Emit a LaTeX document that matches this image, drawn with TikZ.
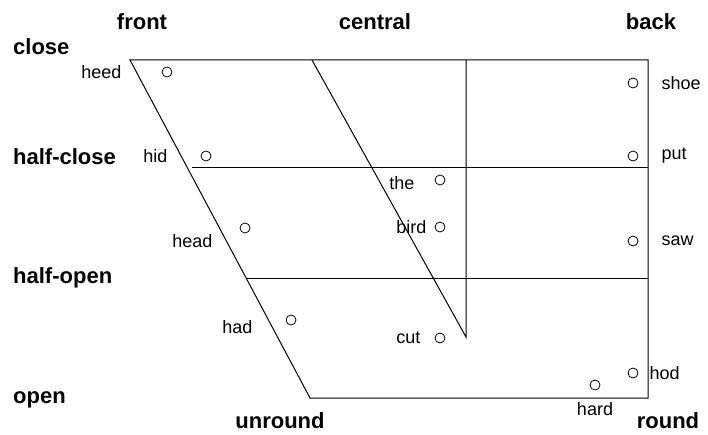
\documentclass[tikz,border=0pt]{standalone}
\usepackage{fontspec}
\setmainfont{Liberation Sans}
\usetikzlibrary{positioning}

\begin{document}
\begin{tikzpicture}[
  x=1pt, y=-1pt,
  node distance=20pt,
  every node/.style={inner sep=0pt},
  vowel/.style={circle, draw, line width=0.8pt, minimum size=10pt},
  word/.style={font=\fontsize{18}{18}\selectfont},
  axislbl/.style={font=\fontsize{22}{22}\selectfont\bfseries},
  frame/.style={line width=1pt}
]
\useasboundingbox (0,0) rectangle (708,435);

% vowel quadrilateral
\coordinate (ftl) at (130,60);
\coordinate (ftr) at (648,60);
\coordinate (fbr) at (648,398);
\coordinate (fbl) at (310,398);
\coordinate (ctop) at (312,60);
\coordinate (cvtop) at (466,60);
\coordinate (cbot) at (466,337);
\coordinate (hcl) at (192,168);
\coordinate (hcr) at (648,168);
\coordinate (hol) at (247,278);
\coordinate (hor) at (648,278);

\draw[frame] (ftl) -- (ftr) -- (fbr) -- (fbl) -- cycle;
\draw[frame] (ctop) -- (cbot) -- (cvtop);
\draw[frame] (hcl) -- (hcr);
\draw[frame] (hol) -- (hor);

% axis labels
\node[axislbl] (front) at (142,22) {front};
\node[axislbl] (central) at (375,22) {central};
\node[axislbl] (back) at (651,22) {back};
\node[axislbl, anchor=west] (close) at (13,47) {close};
\node[axislbl, anchor=west] (halfclose) at (13,157) {half-close};
\node[axislbl, anchor=west] (halfopen) at (13,278) {half-open};
\node[axislbl, anchor=west] (open) at (13,400) {open};
\node[axislbl] (unround) at (280,421) {unround};
\node[axislbl] (round) at (668,421) {round};

% vowels
\node[vowel] (heed) at (167,72) {};
\node[vowel] (hid) at (206,156) {};
\node[vowel] (head) at (245,228) {};
\node[vowel] (had) at (291,320) {};
\node[vowel] (the) at (440,180) {};
\node[vowel] (bird) at (440,227) {};
\node[vowel] (cut) at (440,338) {};
\node[vowel] (shoe) at (633,83) {};
\node[vowel] (put) at (633,156) {};
\node[vowel] (saw) at (633,241) {};
\node[vowel] (hod) at (633,373) {};
\node[vowel] (hard) at (595,385) {};

\node[word, left=40pt of heed] {heed};
\node[word, left=33pt of hid] {hid};
\node[word, left=27pt of head, yshift=-13pt] {head};
\node[word, left=33pt of had, yshift=-7pt] {had};
\node[word, left=20pt of the, yshift=-3pt] {the};
\node[word, left=8pt of bird] {bird};
\node[word, left=14pt of cut] {cut};
\node[word, right=23pt of shoe] {shoe};
\node[word, right=23pt of put] {put};
\node[word, right=23pt of saw] {saw};
\node[word, right=11pt of hod] {hod};
\node[word, below=12pt of hard] {hard};

\end{tikzpicture}
\end{document}
